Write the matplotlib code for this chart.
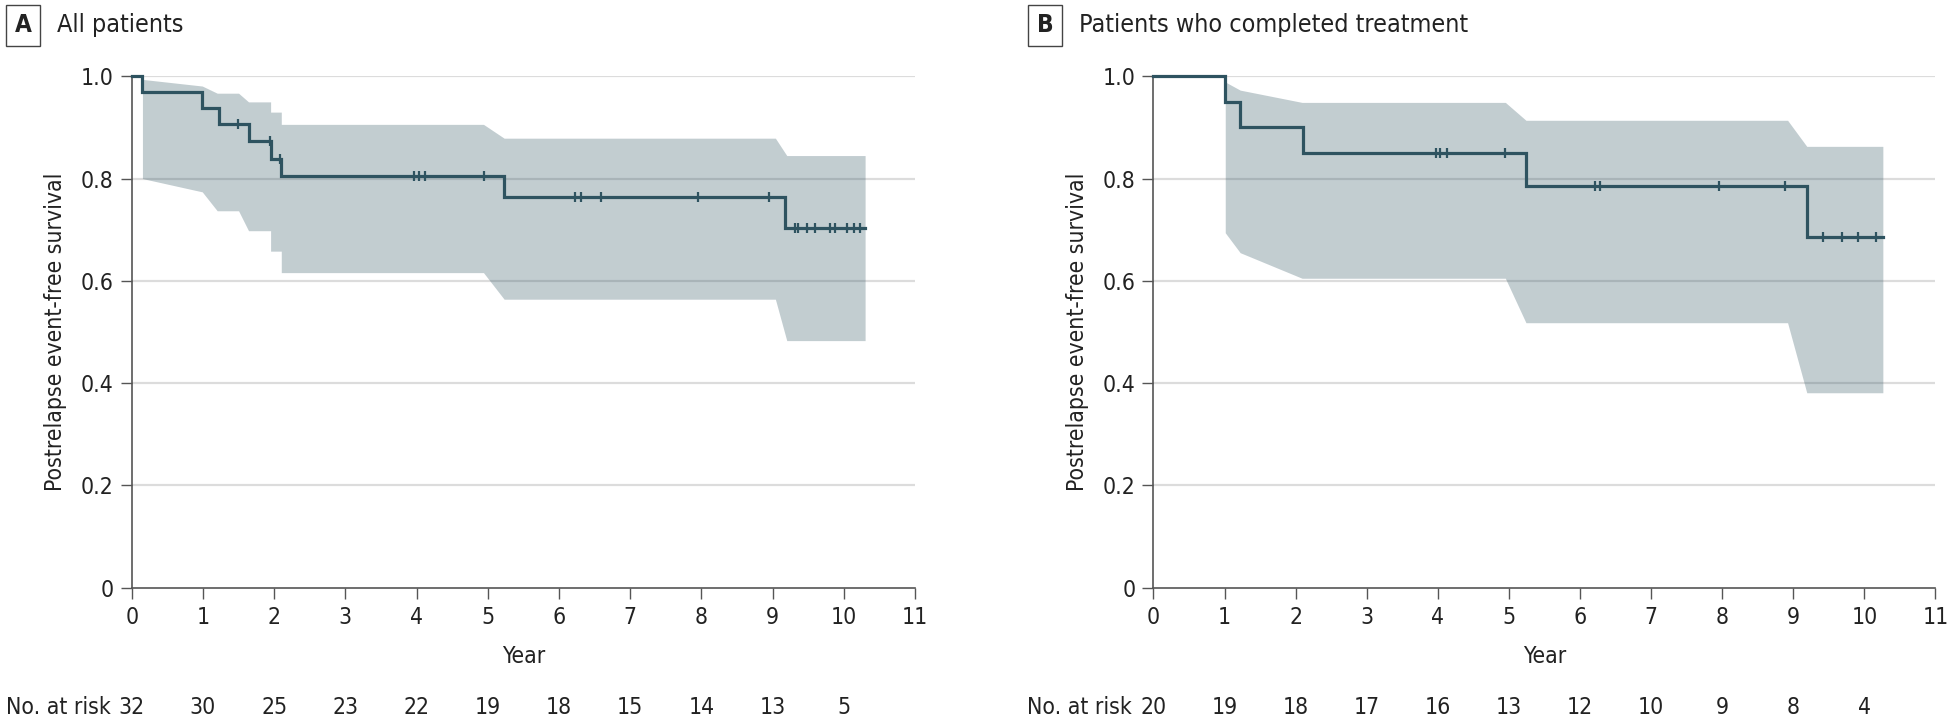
import matplotlib
matplotlib.use('Agg')
import matplotlib.pyplot as plt
import matplotlib.transforms as mtransforms
from matplotlib import font_manager as fm
import numpy as np

# the reference uses a condensed sans; pick the narrowest one available
names = {f.name for f in fm.fontManager.ttflist}
dejavu_cond = any(f.name == 'DejaVu Sans' and 'ondensed' in str(f.stretch) or
                  'Condensed' in f.fname and 'DejaVuSans' in f.fname
                  for f in fm.fontManager.ttflist)
if 'Liberation Sans Narrow' in names:
    plt.rcParams['font.family'] = ['Liberation Sans Narrow', 'DejaVu Sans']
elif dejavu_cond:
    plt.rcParams['font.family'] = ['DejaVu Sans']
    plt.rcParams['font.stretch'] = 'condensed'
else:
    plt.rcParams['font.family'] = ['Liberation Sans', 'DejaVu Sans']

# Panel A - all patients
a_event_t = [0.15, 0.99, 1.22, 1.64, 1.95, 2.10, 5.23, 9.18]
a_event_s = [0.969, 0.938, 0.906, 0.874, 0.839, 0.805, 0.763, 0.704]
a_end = 10.30
a_cens = [1.49, 1.94, 2.08, 3.96, 4.04, 4.12, 4.95, 6.23, 6.31, 6.59, 7.95, 8.95,
          9.31, 9.36, 9.48, 9.60, 9.80, 9.88, 10.04, 10.14, 10.23]
a_ci_t = [0.15, 0.99, 1.20, 1.50, 1.64, 1.95, 1.95, 2.10, 2.10, 4.94, 5.23, 9.04, 9.20, 10.30]
a_ci_hi = [0.994, 0.981, 0.967, 0.967, 0.950, 0.950, 0.930, 0.930, 0.906, 0.906, 0.879, 0.879, 0.845, 0.845]
a_ci_lo = [0.800, 0.774, 0.737, 0.737, 0.698, 0.698, 0.658, 0.658, 0.616, 0.616, 0.564, 0.564, 0.483, 0.483]
a_risk = [32, 30, 25, 23, 22, 19, 18, 15, 14, 13, 5]

# Panel B - patients who completed treatment
b_event_t = [1.01, 1.22, 2.11, 5.24, 9.19]
b_event_s = [0.950, 0.900, 0.850, 0.785, 0.686]
b_end = 10.26
b_cens = [3.97, 4.03, 4.13, 4.95, 6.21, 6.28, 7.95, 8.89, 9.42, 9.68, 9.91, 10.16]
b_ci_t = [1.01, 1.22, 2.09, 4.95, 5.24, 8.92, 9.19, 10.26]
b_ci_hi = [0.989, 0.973, 0.949, 0.949, 0.914, 0.914, 0.863, 0.863]
b_ci_lo = [0.694, 0.655, 0.605, 0.605, 0.518, 0.518, 0.381, 0.381]
b_risk = [20, 19, 18, 17, 16, 13, 12, 10, 9, 8, 4]

years = list(range(12))
risk_years = list(range(11))

line_col = '#2e5360'
grid_col = '#dcdcdc'
axis_col = '#555555'
fs = 16.5

fig = plt.figure(figsize=(19.55, 7.2), dpi=100)


def km_panel(ax, ev_t, ev_s, end, cens, ci_t, ci_hi, ci_lo, risk, letter, title):
    for y in [0.2, 0.4, 0.6, 0.8, 1.0]:
        ax.axhline(y, color=grid_col, lw=1.6, zorder=0)
    ax.fill_between(ci_t, ci_lo, ci_hi, color=line_col, alpha=0.29, lw=0, zorder=1)

    xs = np.array([0] + ev_t + [end])
    ys = np.array([1.0] + ev_s + [ev_s[-1]])
    ax.step(xs, ys, where='post', color=line_col, lw=2.3, zorder=3, clip_on=False,
            solid_joinstyle='miter')
    idx = np.searchsorted(xs, cens, side='right') - 1
    ax.plot(cens, ys[idx], ls='none', marker='|', ms=7.5, mew=1.6, color=line_col, zorder=4)

    ax.set_xlim(0, 11)
    ax.set_ylim(0, 1)
    ax.set_xticks(years)
    ax.set_yticks([0, 0.2, 0.4, 0.6, 0.8, 1.0])
    ax.set_yticklabels(['0', '0.2', '0.4', '0.6', '0.8', '1.0'])
    ax.tick_params(labelsize=fs, colors='#222222', length=8, width=1.0, pad=5)
    ax.tick_params(axis='both', color=axis_col)
    for s in ['top', 'right']:
        ax.spines[s].set_visible(False)
    for s in ['left', 'bottom']:
        ax.spines[s].set_color(axis_col)
        ax.spines[s].set_linewidth(1.2)
    ax.set_xlabel('Year', fontsize=fs, color='#222222', labelpad=12)
    ax.set_ylabel('Postrelapse event-free survival', fontsize=fs, color='#222222', labelpad=10)

    trans = mtransforms.blended_transform_factory(ax.transData, fig.transFigure)
    ax.text(-0.30, 0.018, 'No. at risk', transform=trans, ha='right', va='center',
            fontsize=fs, color='#222222')
    for x, n in zip(risk_years, risk):
        ax.text(x, 0.018, str(n), transform=trans, ha='center', va='center',
                fontsize=fs, color='#222222')

    pos = ax.get_position()
    fig.text(pos.x0 - 0.0555, 0.965, letter, ha='center', va='center', fontsize=17.5,
             fontweight='bold', color='#222222',
             bbox=dict(boxstyle='square,pad=0.35', fc='white', ec='#444444', lw=1.0))
    fig.text(pos.x0 - 0.0382, 0.965, title, ha='left', va='center', fontsize=18,
             color='#222222')


ax_a = fig.add_axes([0.0674, 0.184, 0.4006, 0.710])
km_panel(ax_a, a_event_t, a_event_s, a_end, a_cens, a_ci_t, a_ci_hi, a_ci_lo, a_risk,
         'A', 'All patients')

ax_b = fig.add_axes([0.590, 0.184, 0.400, 0.710])
km_panel(ax_b, b_event_t, b_event_s, b_end, b_cens, b_ci_t, b_ci_hi, b_ci_lo, b_risk,
         'B', 'Patients who completed treatment')

fig.savefig('out.png', dpi=100)
